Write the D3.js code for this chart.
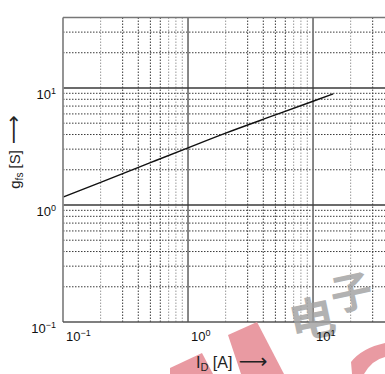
<!DOCTYPE html>
<html><head><meta charset="utf-8">
<script src="https://cdn.jsdelivr.net/npm/d3@7"></script>
<style>html,body{margin:0;padding:0;background:#fff;} svg{display:block;}</style>
</head><body><svg id="c" width="385" height="374"></svg>
<script>
// Drain current I_D [A] vs forward transconductance g_fs [S]
const idValues  = [0.1, 0.2, 0.5, 1, 2, 5, 10, 14.5];
const gfsValues = [1.17, 1.56, 2.30, 3.08, 4.11, 5.88, 7.7, 8.89];
const xDomain = [0.1, 40];
const yDomain = [0.1, 40];
const xMajorTicks = [0.1, 1, 10];
const yMajorTicks = [0.1, 1, 10];
const tickExponents = ["\u22121", "0", "1"];
const minorMultipliers = [2, 3, 4, 5, 6, 7, 8, 9];

const svg = d3.select("#c");
const W = 385, H = 374;
const plot = {left: 63, top: 17.5, bottom: 322, right: 388.3};

const x = d3.scaleLog().domain(xDomain).range([plot.left, plot.right]);
const y = d3.scaleLog().domain(yDomain).range([plot.bottom, plot.top]);

svg.append("rect").attr("width", W).attr("height", H).attr("fill", "#fff");

svg.append("defs").append("clipPath").attr("id", "clip")
  .append("rect").attr("x", plot.left).attr("y", plot.top)
  .attr("width", W - plot.left).attr("height", plot.bottom - plot.top);

const g = svg.append("g").attr("clip-path", "url(#clip)");

// minor grid
const xMinor = [], yMinor = [];
xMajorTicks.forEach(d => minorMultipliers.forEach(k => { const v = +(k * d).toPrecision(3); if (v <= xDomain[1]) xMinor.push({v, k}); }));
yMajorTicks.forEach(d => minorMultipliers.forEach(k => { const v = +(k * d).toPrecision(3); if (v <= yDomain[1]) yMinor.push({v, k}); }));

g.selectAll("line.xminor").data(xMinor).join("line").attr("class", "xminor")
  .attr("x1", d => x(d.v)).attr("x2", d => x(d.v))
  .attr("y1", plot.top).attr("y2", plot.bottom)
  .attr("stroke", d => (d.k >= 3 && d.k <= 6) ? "#3a3a3a" : "#9a9a9a")
  .attr("stroke-width", 1).attr("stroke-dasharray", "1.5,1.5");

g.selectAll("line.yminor").data(yMinor).join("line").attr("class", "yminor")
  .attr("y1", d => y(d.v)).attr("y2", d => y(d.v))
  .attr("x1", plot.left).attr("x2", W)
  .attr("stroke", "#3a3a3a")
  .attr("stroke-width", 1).attr("stroke-dasharray", "1.5,1.5");

// major grid
g.selectAll("line.xmajor").data(xMajorTicks.slice(1)).join("line").attr("class", "xmajor")
  .attr("x1", d => x(d)).attr("x2", d => x(d))
  .attr("y1", plot.top).attr("y2", plot.bottom)
  .attr("stroke", "#7a7a7a").attr("stroke-width", 1.8);
g.selectAll("line.ymajor").data(yMajorTicks.slice(1)).join("line").attr("class", "ymajor")
  .attr("y1", d => y(d)).attr("y2", d => y(d))
  .attr("x1", plot.left).attr("x2", W)
  .attr("stroke", "#3a3a3a").attr("stroke-width", 1.5);

// frame
svg.append("line").attr("x1", plot.left).attr("x2", plot.left).attr("y1", plot.top).attr("y2", plot.bottom)
  .attr("stroke", "#888").attr("stroke-width", 1.8);
svg.append("line").attr("x1", plot.left).attr("x2", W).attr("y1", plot.top).attr("y2", plot.top)
  .attr("stroke", "#777").attr("stroke-width", 1.5);
svg.append("line").attr("x1", plot.left).attr("x2", W).attr("y1", plot.bottom).attr("y2", plot.bottom)
  .attr("stroke", "#555").attr("stroke-width", 1.5);

// curve
const line = d3.line().x((d, i) => x(idValues[i])).y((d, i) => y(gfsValues[i])).curve(d3.curveMonotoneX);
g.append("path").datum(idValues).attr("d", line)
  .attr("fill", "none").attr("stroke", "#111").attr("stroke-width", 1.4);

// watermark (decorative)
const wm = svg.append("g").attr("class", "watermark");
wm.append("path").attr("d", "M228,335 L257,322 L284,374 L241,374 Z").attr("fill", "#e99aa2");
wm.append("path").attr("d", "M170,368 L202,353 L213,374 L170,374 Z").attr("fill", "#e99aa2");
wm.append("path").attr("d", "M351,362 Q362,348 385,343 L385,357 Q372,360 364,374 L352,374 Z").attr("fill", "#e99aa2");
wm.append("text").attr("x", 0).attr("y", 0)
  .attr("transform", "translate(293,340) rotate(-12)")
  .attr("font-family", "'Noto Sans CJK SC'").attr("font-weight", "bold")
  .attr("font-size", 46).attr("fill", "#a0a0a0").attr("opacity", 0.8).text("电");
wm.append("text").attr("x", 0).attr("y", 0)
  .attr("transform", "translate(334,312) rotate(-12)")
  .attr("font-family", "'Noto Sans CJK SC'").attr("font-weight", "bold")
  .attr("font-size", 42).attr("fill", "#a0a0a0").attr("opacity", 0.8).text("子");

// tick labels
const font = "'Liberation Sans', Arial, sans-serif";
const xl = svg.selectAll("text.xl").data(xMajorTicks).join("text").attr("class", "xl")
  .attr("x", d => x(d) + 3).attr("y", 341)
  .attr("font-family", font).attr("font-size", 13).attr("fill", "#111");
xl.append("tspan").text("10");
xl.append("tspan").attr("dy", -5).attr("font-size", 9).text((d, i) => tickExponents[i]);

const yl = svg.selectAll("text.yl").data(yMajorTicks).join("text").attr("class", "yl")
  .attr("x", 56).attr("y", d => y(d) + 11).attr("text-anchor", "end")
  .attr("font-family", font).attr("font-size", 13).attr("fill", "#111");
yl.append("tspan").text("10");
yl.append("tspan").attr("dy", -5).attr("font-size", 9).text((d, i) => tickExponents[i]);

// axis titles
const xt = svg.append("text").attr("x", 196).attr("y", 368)
  .attr("font-family", font).attr("font-size", 16).attr("fill", "#222");
xt.append("tspan").text("I");
xt.append("tspan").attr("dy", 3).attr("font-size", 11).text("D");
xt.append("tspan").attr("dy", -3).text(" [A] ");
xt.append("tspan").attr("font-family", "'DejaVu Sans'").attr("font-size", 20).attr("dx", 2).text("\u27F6");

const yt = svg.append("text").attr("transform", "translate(20,152) rotate(-90)")
  .attr("text-anchor", "middle")
  .attr("font-family", font).attr("font-size", 15).attr("fill", "#222");
yt.append("tspan").text("g");
yt.append("tspan").attr("dy", 3).attr("font-size", 10).text("fs");
yt.append("tspan").attr("dy", -3).text(" [S] ");
yt.append("tspan").attr("font-family", "'DejaVu Sans'").attr("font-size", 20).attr("dx", 2).text("\u27F6");
</script></body></html>
